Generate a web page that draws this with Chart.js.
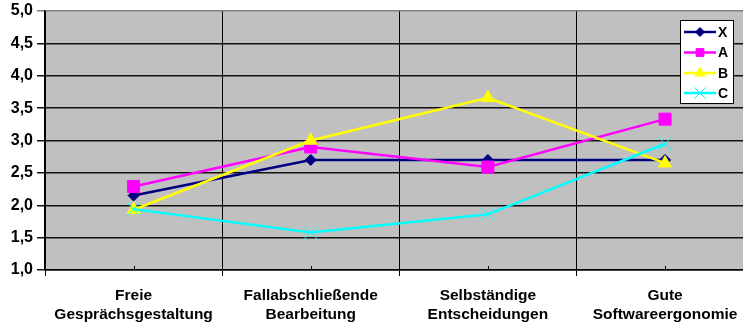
<!DOCTYPE html>
<html>
<head>
<meta charset="utf-8">
<script src="https://cdn.jsdelivr.net/npm/chart.js@4/dist/chart.umd.min.js"></script>
<style>
  html, body { margin: 0; padding: 0; background: #ffffff; overflow: hidden; }
  #c { display: block; }
</style>
</head>
<body>
<canvas id="c" width="743" height="326"></canvas>
<script>
// Categories (each label split over two lines)
const categories = [
  ["Freie", "Gesprächsgestaltung"],
  ["Fallabschließende", "Bearbeitung"],
  ["Selbständige", "Entscheidungen"],
  ["Gute", "Softwareergonomie"]
];

// Series values
const seriesX = [2.15, 2.70, 2.70, 2.70];
const seriesA = [2.29, 2.90, 2.59, 3.33];
const seriesB = [1.93, 3.00, 3.66, 2.65];
const seriesC = [1.94, 1.58, 1.86, 2.95];

// Value axis range
const yMin = 1.0;
const yMax = 5.0;
const yStep = 0.5;

// Category axis: slots of width 1 centred on 0..3; the last slot runs past the right edge
const xMin = -0.5;
const xMax = 3.44;

const FONT = "'Liberation Sans', Arial, sans-serif";

// Small inner tick marks at each category centre on the x axis
const centreTicks = {
  id: 'centreTicks',
  afterDatasetsDraw(chart) {
    const { ctx, scales: { x }, chartArea } = chart;
    ctx.save();
    ctx.strokeStyle = '#000';
    ctx.lineWidth = 1;
    categories.forEach((_, i) => {
      const px = Math.round(x.getPixelForValue(i)) + 0.5;
      ctx.beginPath();
      ctx.moveTo(px, chartArea.bottom);
      ctx.lineTo(px, chartArea.bottom - 4);
      ctx.stroke();
    });
    ctx.restore();
  }
};

// Smaller marker sizes used inside the legend box
const legendRadius = { rectRot: 4.5, rect: 5.5, triangle: 6, crossRot: 8 };

// Boxed legend inside the plot, each entry shown as line + marker
const boxLegend = {
  id: 'boxLegend',
  afterDraw(chart) {
    const { ctx } = chart;
    const bx = 680.5, by = 20.5, bw = 53, bh = 83;
    ctx.save();
    ctx.fillStyle = '#ffffff';
    ctx.fillRect(bx, by, bw, bh);
    ctx.strokeStyle = '#000';
    ctx.lineWidth = 1;
    ctx.strokeRect(bx, by, bw, bh);
    const rowsY = [32, 52.5, 73, 93];
    chart.data.datasets.forEach((ds, i) => {
      const y = rowsY[i];
      ctx.strokeStyle = ds.borderColor;
      ctx.lineWidth = ds.borderWidth;
      ctx.beginPath();
      ctx.moveTo(684, y);
      ctx.lineTo(716, y);
      ctx.stroke();
      ctx.fillStyle = ds.pointBackgroundColor;
      ctx.strokeStyle = ds.pointBorderColor;
      ctx.lineWidth = ds.pointBorderWidth;
      Chart.helpers.drawPoint(ctx, {
        pointStyle: ds.pointStyle,
        radius: legendRadius[ds.pointStyle],
        borderWidth: ds.pointBorderWidth
      }, 700, y);
      ctx.fillStyle = '#000';
      ctx.font = 'bold 14px ' + FONT;
      ctx.textAlign = 'left';
      ctx.textBaseline = 'middle';
      ctx.fillText(ds.label, 718, y + 1);
    });
    ctx.restore();
  }
};

function series(label, values, color, style, radius, bw) {
  return {
    label,
    data: values.map((v, i) => ({ x: i, y: v })),
    borderColor: color,
    backgroundColor: color,
    borderWidth: 2.5,
    pointStyle: style,
    pointRadius: radius,
    pointHoverRadius: radius,
    pointBackgroundColor: color,
    pointBorderColor: color,
    pointBorderWidth: bw,
    tension: 0,
    fill: false
  };
}

const datasets = [
  series('X', seriesX, '#000080', 'rectRot', 5.5, 1),
  series('A', seriesA, '#ff00ff', 'rect', 8.5, 1),
  series('B', seriesB, '#ffff00', 'triangle', 7.5, 1),
  series('C', seriesC, '#00ffff', 'crossRot', 9, 1)
];
// later series are painted over earlier ones
datasets.forEach((d, i) => { d.order = datasets.length - i; });

// slot boundaries carry the vertical grid lines, slot centres carry the labels
const xTickValues = [];
categories.forEach((_, i) => { xTickValues.push(i - 0.5, i); });

new Chart(document.getElementById('c'), {
  type: 'line',
  data: { datasets },
  plugins: [centreTicks, boxLegend, {
    id: 'plotBg',
    beforeDraw(chart) {
      const { ctx, chartArea: a } = chart;
      ctx.save();
      ctx.fillStyle = '#c0c0c0';
      ctx.fillRect(a.left, a.top, a.right - a.left, a.bottom - a.top);
      ctx.restore();
    }
  }],
  options: {
    responsive: false,
    maintainAspectRatio: false,
    animation: false,
    devicePixelRatio: 1,
    layout: { autoPadding: false, padding: { top: 11, right: 0, left: 0, bottom: 0 } },
    plugins: {
      legend: { display: false },
      tooltip: { enabled: false }
    },
    scales: {
      x: {
        type: 'linear',
        min: xMin,
        max: xMax,
        afterBuildTicks(s) { s.ticks = xTickValues.map((v) => ({ value: v })); },
        afterFit(s) { s.height = 56; s.paddingRight = 0; s.paddingLeft = 0; },
        grid: {
          color: (c) => (c.tick && Number.isInteger(c.tick.value) ? 'rgba(0,0,0,0)' : '#000'),
          lineWidth: 1,
          tickLength: 6
        },
        border: { color: '#000', width: 1.5 },
        ticks: {
          color: '#000',
          font: { family: FONT, size: 15.5, weight: 'bold', lineHeight: 1.22 },
          padding: 10,
          maxRotation: 0,
          autoSkip: false,
          callback: (v) => (Number.isInteger(v) ? categories[v] : '')
        }
      },
      y: {
        min: yMin,
        max: yMax,
        afterFit(s) { s.width = 45; s.paddingTop = 0; },
        grid: {
          color: (c) => (c.tick && c.tick.value === yMax ? '#808080' : '#111'),
          lineWidth: 1.5,
          tickLength: 8
        },
        border: { color: '#000', width: 1.5 },
        ticks: {
          stepSize: yStep,
          color: '#000',
          padding: 4,
          font: { family: FONT, size: 16, weight: 'bold', lineHeight: 1.0 },
          callback: (v) => Number(v).toFixed(1).replace('.', ',')
        }
      }
    }
  }
});
</script>
</body>
</html>
